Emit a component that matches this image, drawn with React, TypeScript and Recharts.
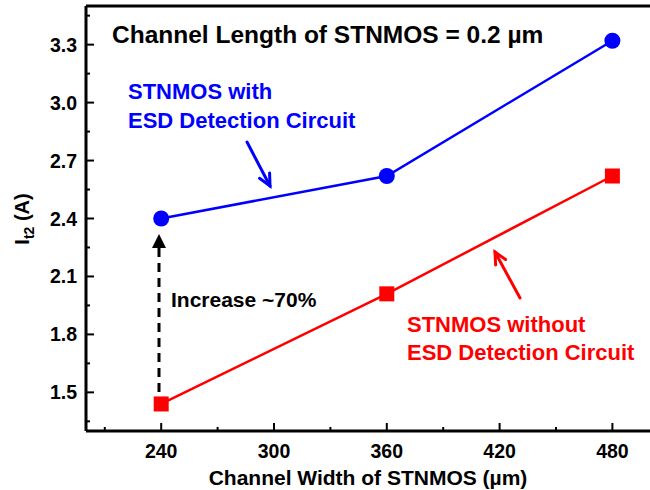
import { LineChart, Line, XAxis, YAxis, ReferenceLine } from 'recharts';

const widths = [240, 360, 480];
const withEsd = [2.4, 2.62, 3.32];
const withoutEsd = [1.44, 2.01, 2.62];

const xMajor = [240, 300, 360, 420, 480];
const xMinor = [210, 270, 330, 390, 450];
const yMajor = [1.5, 1.8, 2.1, 2.4, 2.7, 3.0, 3.3];
const yMinor = [1.35, 1.65, 1.95, 2.25, 2.55, 2.85, 3.15, 3.45];

const data = widths.map((w, i) => ({ w, withEsd: withEsd[i], withoutEsd: withoutEsd[i] }));

const FONT = '"Liberation Sans", Arial, sans-serif';
const BLUE = '#0000FF';
const RED = '#FF0000';

function XTick({ x, y, payload }: any) {
  const major = xMajor.includes(payload.value);
  return (
    <g>
      <line x1={x} x2={x} y1={y} y2={y - (major ? 8 : 4)} stroke="#000" strokeWidth={2} />
      {major && (
        <text x={x} y={y + 27} textAnchor="middle" fontFamily={FONT} fontWeight="bold" fontSize={19.5} fill="#000">
          {payload.value}
        </text>
      )}
    </g>
  );
}

function YTick({ x, y, payload }: any) {
  const major = yMajor.some((v) => Math.abs(v - payload.value) < 1e-6);
  return (
    <g>
      <line x1={x} x2={x + (major ? 8 : 4)} y1={y} y2={y} stroke="#000" strokeWidth={2} />
      {major && (
        <text x={x - 9} y={y + 7} textAnchor="end" fontFamily={FONT} fontWeight="bold" fontSize={19.5} fill="#000">
          {payload.value.toFixed(1)}
        </text>
      )}
    </g>
  );
}

function SquareDot({ cx, cy, key }: any) {
  return <rect key={key} x={cx - 7.5} y={cy - 7.5} width={15} height={15} fill={RED} />;
}

// open "V" arrow head pointing at (x2, y2)
function OpenArrow({ x1, y1, x2, y2, color }: { x1: number; y1: number; x2: number; y2: number; color: string }) {
  const a = Math.atan2(y2 - y1, x2 - x1);
  const len = 13;
  const spread = 0.45;
  const p1 = [x2 - len * Math.cos(a - spread), y2 - len * Math.sin(a - spread)];
  const p2 = [x2 - len * Math.cos(a + spread), y2 - len * Math.sin(a + spread)];
  return (
    <g stroke={color} strokeWidth={3} fill="none" strokeLinecap="round">
      <line x1={x1} y1={y1} x2={x2} y2={y2} />
      <polyline points={`${p1[0]},${p1[1]} ${x2},${y2} ${p2[0]},${p2[1]}`} />
    </g>
  );
}

export default function App() {
  return (
    <div style={{ position: 'absolute', left: 0, top: 0, width: 650, height: 490, background: '#fff' }}>
      <LineChart width={650} height={490} data={data} margin={{ top: 6, right: 0, bottom: 0, left: 0 }}>
        <XAxis
          dataKey="w"
          type="number"
          domain={[200, 500]}
          ticks={[...xMinor, ...xMajor].sort((a, b) => a - b)}
          interval={0}
          height={59}
          tickSize={0}
          tickMargin={0}
          tickLine={false}
          axisLine={{ stroke: '#000', strokeWidth: 3 }}
          tick={<XTick />}
        />
        <YAxis
          type="number"
          domain={[1.3, 3.5]}
          ticks={[...yMinor, ...yMajor].sort((a, b) => a - b)}
          interval={0}
          width={86}
          tickSize={0}
          tickMargin={0}
          tickLine={false}
          axisLine={{ stroke: '#000', strokeWidth: 3 }}
          tick={<YTick />}
        />
        <ReferenceLine y={3.5} stroke="#000" strokeWidth={3} />
        <Line
          type="linear"
          dataKey="withEsd"
          stroke={BLUE}
          strokeWidth={2.5}
          dot={{ r: 8, fill: BLUE, stroke: BLUE, strokeWidth: 0 }}
          isAnimationActive={false}
        />
        <Line
          type="linear"
          dataKey="withoutEsd"
          stroke={RED}
          strokeWidth={2.5}
          dot={<SquareDot />}
          isAnimationActive={false}
        />
      </LineChart>
      <svg width={650} height={490} style={{ position: 'absolute', left: 0, top: 0, pointerEvents: 'none' }}>
        <g fontFamily={FONT} fontWeight="bold">
          <text x={112} y={43} fontSize={24.5} fill="#000">Channel Length of STNMOS = 0.2 µm</text>
          <text x={128} y={99} fontSize={22} fill={BLUE}>STNMOS with</text>
          <text x={128} y={128} fontSize={22} fill={BLUE}>ESD Detection Circuit</text>
          <text x={407} y={332} fontSize={22} fill={RED}>STNMOS without</text>
          <text x={407} y={360} fontSize={22} fill={RED}>ESD Detection Circuit</text>
          <text x={171} y={307} fontSize={21} fill="#000">Increase ~70%</text>
          <text x={368} y={485} fontSize={21} fill="#000" textAnchor="middle">Channel Width of STNMOS (µm)</text>
          <text x={29} y={219} fontSize={20} fill="#000" textAnchor="middle" transform="rotate(-90, 29, 219)">
            I<tspan fontSize={14} dy={5}>t2</tspan>
            <tspan dy={-5}> (A)</tspan>
          </text>
        </g>
        <OpenArrow x1={247} y1={142} x2={270} y2={186} color={BLUE} />
        <OpenArrow x1={520} y1={298} x2={495} y2={252} color={RED} />
        <line x1={159} y1={392} x2={159} y2={246} stroke="#000" strokeWidth={3} strokeDasharray="9 6" />
        <polygon points="159,234 152,248 166,248" fill="#000" />
      </svg>
    </div>
  );
}
